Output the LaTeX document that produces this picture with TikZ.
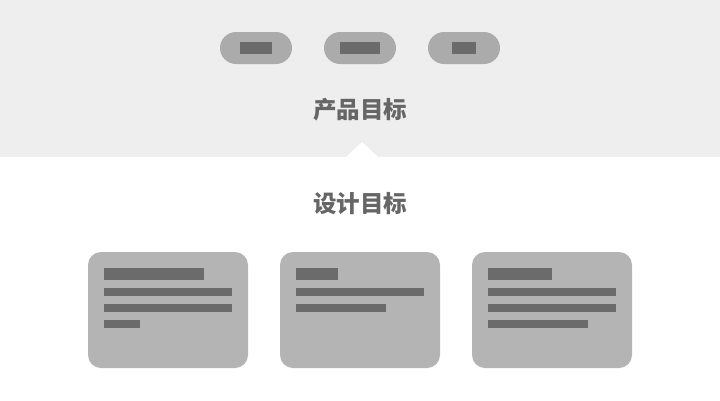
\documentclass[tikz,border=0pt]{standalone}
\usepackage{fontspec}
\newfontfamily\cjk{Noto Sans CJK SC}
\usepackage{tikz}
\definecolor{bandgray}{HTML}{EEEEEE}
\definecolor{pillgray}{HTML}{ABABAB}
\definecolor{cardgray}{HTML}{B4B4B4}
\definecolor{bargray}{HTML}{6B6B6B}
\definecolor{textgray}{HTML}{666666}
\tikzset{
  pill/.style={fill=pillgray, rounded corners=16pt, minimum width=72pt, minimum height=32pt, inner sep=0pt},
  card/.style={fill=cardgray, rounded corners=13pt, minimum width=160pt, minimum height=116pt, inner sep=0pt},
  heading/.style={text=textgray, font=\cjk\bfseries\fontsize{23.5}{25}\selectfont, inner sep=0pt},
  bar/.style={fill=bargray}
}
\begin{document}
\begin{tikzpicture}[x=1pt, y=-1pt]
        \useasboundingbox (0, 0) rectangle (720, 400);
        % Band
        \fill[bandgray] (0, 0) rectangle (720, 157);
        \fill[white] (346, 157) -- (362, 142) -- (378, 157) -- cycle;
        % Nodes
        \node[pill] (tag1) at (256, 48) {};
        \node[pill] (tag2) at (360, 48) {};
        \node[pill] (tag3) at (464, 48) {};
        \node[heading] (product) at (360, 110) {产品目标};
        \node[heading] (design) at (360, 204) {设计目标};
        \node[card] (card1) at (168, 310) {};
        \node[card] (card2) at (360, 310) {};
        \node[card] (card3) at (552, 310) {};
        % Bars
        \fill[bar] (240, 42) rectangle (272, 54);
        \fill[bar] (340, 42) rectangle (380, 54);
        \fill[bar] (452, 42) rectangle (476, 54);
        \fill[bar] (104, 268) rectangle (204, 280);
        \fill[bar] (104, 288) rectangle (232, 296);
        \fill[bar] (104, 304) rectangle (232, 312);
        \fill[bar] (104, 320) rectangle (140, 328);
        \fill[bar] (296, 268) rectangle (338, 280);
        \fill[bar] (296, 288) rectangle (424, 296);
        \fill[bar] (296, 304) rectangle (386, 312);
        \fill[bar] (488, 268) rectangle (552, 280);
        \fill[bar] (488, 288) rectangle (616, 296);
        \fill[bar] (488, 304) rectangle (616, 312);
        \fill[bar] (488, 320) rectangle (588, 328);
    \end{tikzpicture}
\end{document}
